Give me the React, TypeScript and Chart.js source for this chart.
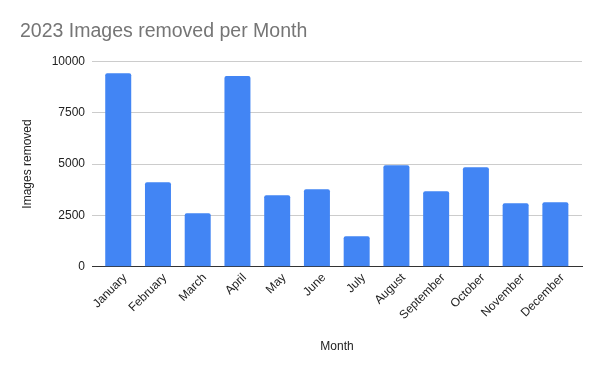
import React, { useEffect, useRef } from "react";
import { Chart, registerables } from "chart.js";

Chart.register(...registerables);

const MONTHS = [
  "January", "February", "March", "April", "May", "June",
  "July", "August", "September", "October", "November", "December",
];
const IMAGES_REMOVED = [9420, 4110, 2600, 9280, 3480, 3770, 1480, 4940, 3670, 4840, 3090, 3140];
const Y_TICKS = [0, 2500, 5000, 7500, 10000];

const FONT = "Arial, 'Liberation Sans', sans-serif";

export default function App() {
  const ref = useRef<HTMLCanvasElement>(null);

  useEffect(() => {
    document.body.style.margin = "0";
    const ctx = ref.current!;
    const chart = new Chart(ctx, {
      type: "bar",
      data: {
        datasets: [
          {
            label: "Images removed",
            data: IMAGES_REMOVED.map((v, i) => ({ x: i, y: v })),
            backgroundColor: "#4285F4",
            borderRadius: { topLeft: 2, topRight: 2, bottomLeft: 0, bottomRight: 0 },
            borderSkipped: "bottom",
            categoryPercentage: 1,
            barPercentage: 0.654,
          },
        ],
      },
      options: {
        animation: false,
        responsive: false,
        devicePixelRatio: 1,
        layout: { padding: { left: 20, right: 18, top: 0, bottom: 0 } },
        plugins: {
          legend: { display: false },
          tooltip: { enabled: false },
          title: {
            display: true,
            text: "2023 Images removed per Month",
            align: "start",
            color: "#757575",
            font: { family: FONT, size: 19.5, weight: "normal" },
            padding: { top: 20.3, bottom: 17.6 },
          },
        },
        scales: {
          x: {
            type: "linear",
            offset: false,
            min: -0.66,
            max: 11.67,
            afterBuildTicks: (scale: any) => {
              scale.ticks = MONTHS.map((_, i) => ({ value: i }));
            },
            afterFit: (scale: any) => {
              scale.height = 104.3;
            },
            grid: { display: false, drawTicks: false },
            border: { display: true, color: "#333333", width: 1 },
            ticks: {
              autoSkip: false,
              maxRotation: 45,
              minRotation: 45,
              padding: 4,
              labelOffset: 7,
              color: "#222222",
              font: { family: FONT, size: 12 },
              callback: (v: any) => MONTHS[v as number] ?? "",
            },
            title: {
              display: true,
              text: "Month",
              color: "#222222",
              font: { family: FONT, size: 12 },
              padding: { top: 0, bottom: 17 },
            },
          },
          y: {
            min: 0,
            max: 10000,
            afterBuildTicks: (scale: any) => {
              scale.ticks = Y_TICKS.map((v) => ({ value: v }));
            },
            afterFit: (scale: any) => {
              scale.width = 72;
            },
            grid: { color: "#cccccc", drawTicks: false },
            border: { display: false },
            ticks: {
              padding: 7,
              color: "#222222",
              font: { family: FONT, size: 12 },
              callback: (v: any) => String(v),
            },
            title: {
              display: true,
              text: "Images removed",
              color: "#222222",
              font: { family: FONT, size: 12 },
              padding: { top: 0, bottom: 0 },
            },
          },
        },
      },
    });
    return () => chart.destroy();
  }, []);

  return (
    <div style={{ position: "absolute", left: 0, top: 0, width: 600, height: 371 }}>
      <canvas ref={ref} width={600} height={371} />
    </div>
  );
}
